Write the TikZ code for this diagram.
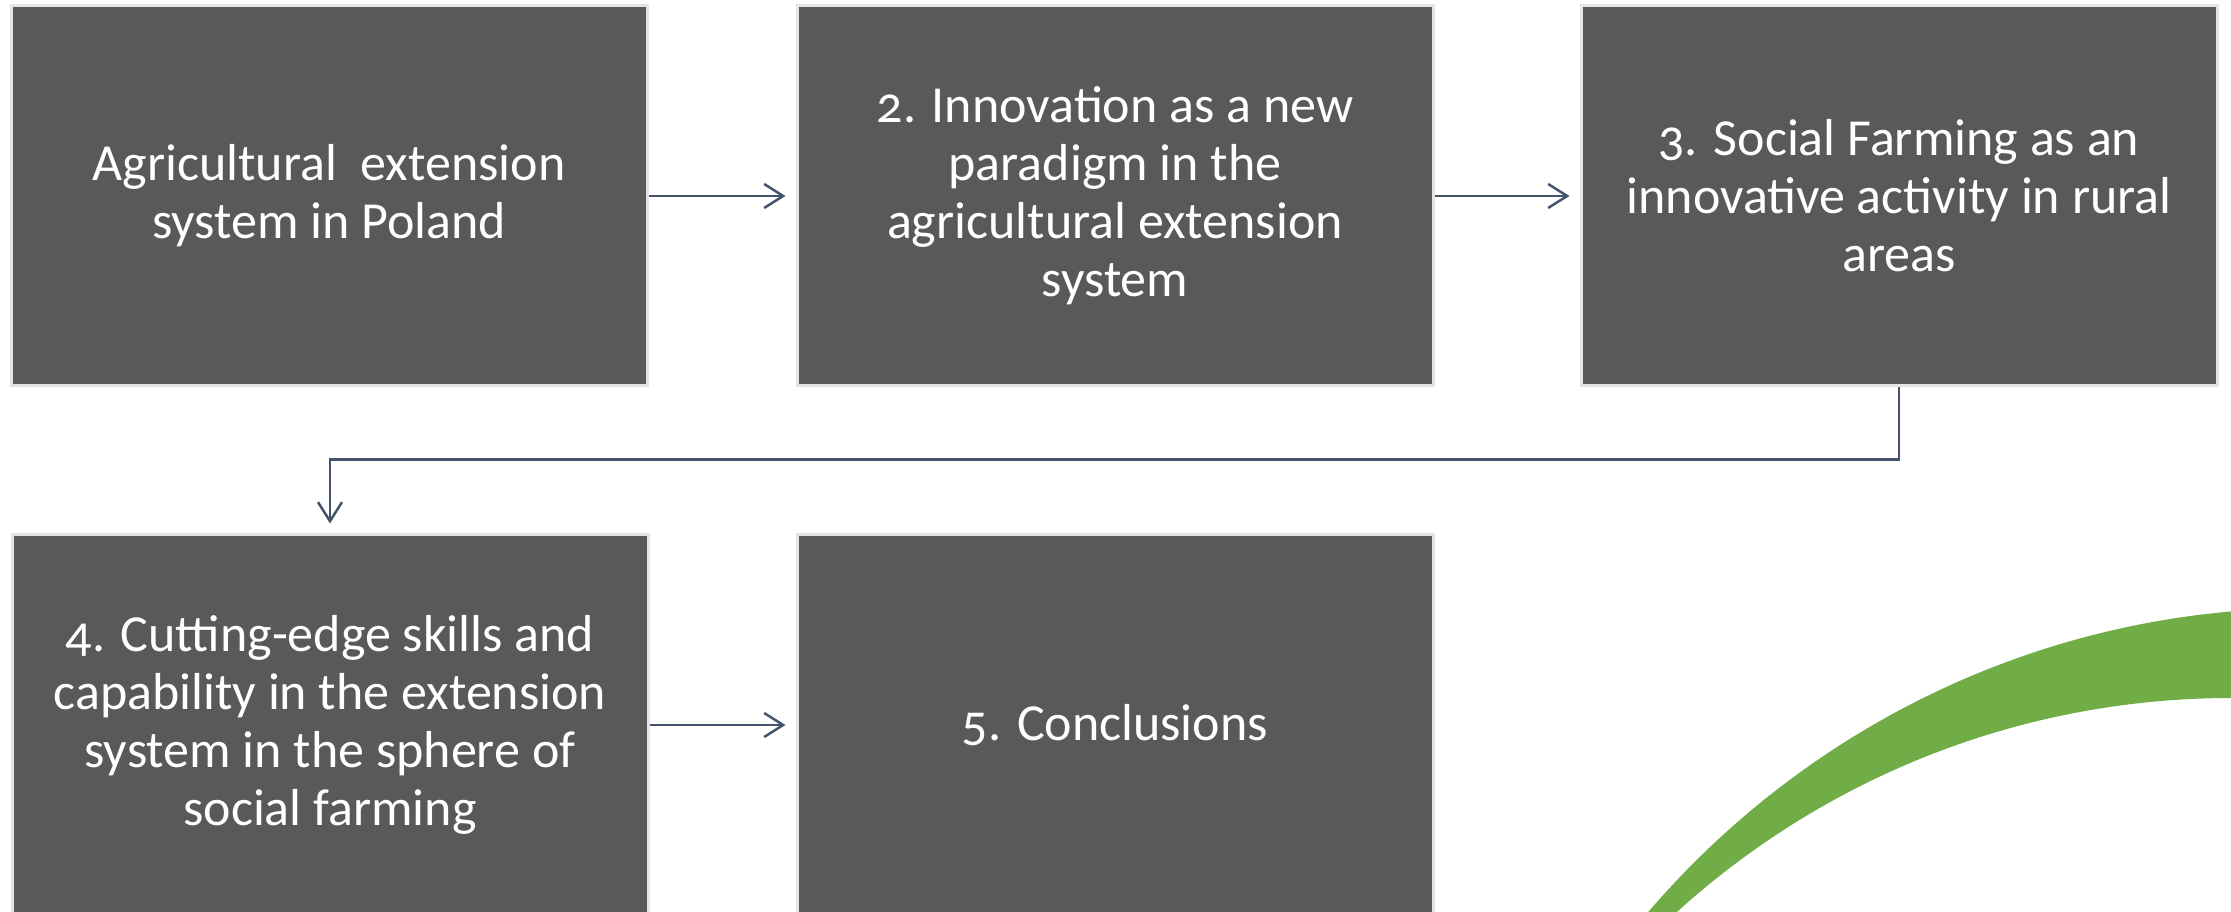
\documentclass[tikz,border=0pt]{standalone}
\usepackage{fontspec}
\setmainfont[Numbers=OldStyle]{Carlito}
\usepackage{tikz}
\usetikzlibrary{arrows.meta}
\definecolor{boxgray}{HTML}{595959}
\definecolor{rimgray}{HTML}{E4E4E4}
\definecolor{arrowblue}{HTML}{44546A}
\definecolor{leafgreen}{HTML}{70AD47}
\tikzset{
    sect/.style={draw=rimgray, line width=3pt, fill=boxgray, text=white, minimum width=636pt, minimum height=380pt, inner sep=0pt, align=center, font=\fontsize{52}{58}\selectfont},
    flow/.style={draw=arrowblue, line width=2.5pt, -{Straight Barb[length=19pt,width=24pt]}, shorten >=10pt}}

\begin{document}
\begin{tikzpicture}[x=1pt,y=1pt]
\useasboundingbox (0,0) rectangle (2231,912);

%Green arc
\begin{scope}
\clip (0,0) rectangle (2231,912);
\fill[leafgreen, even odd rule] (2309,-566) circle (870pt) (2232,-613) circle (827pt);
\end{scope}

%Sections
\node[sect] (b1) at (329,716) {Agricultural\ \ extension\\ system in Poland};
\node[sect] (b2) at (1115,716) {2. Innovation as a new\\ paradigm in the\\ agricultural extension\\ system};
\node[sect] (b3) at (1899,716) {3. Social Farming as an\\ innovative activity in rural\\ areas};
\node[sect] (b4) at (330,187) {4. Cutting-edge skills and\\ capability in the extension\\ system in the sphere of\\ social farming};
\node[sect] (b5) at (1115,187) {5. Conclusions};

\draw[flow] (b1) -- (b2);
\draw[flow] (b2) -- (b3);
\draw[flow] (b3.south) -- ++(0,-72) -| (b4.north);
\draw[flow] (b4) -- (b5);

\end{tikzpicture}
\end{document}
